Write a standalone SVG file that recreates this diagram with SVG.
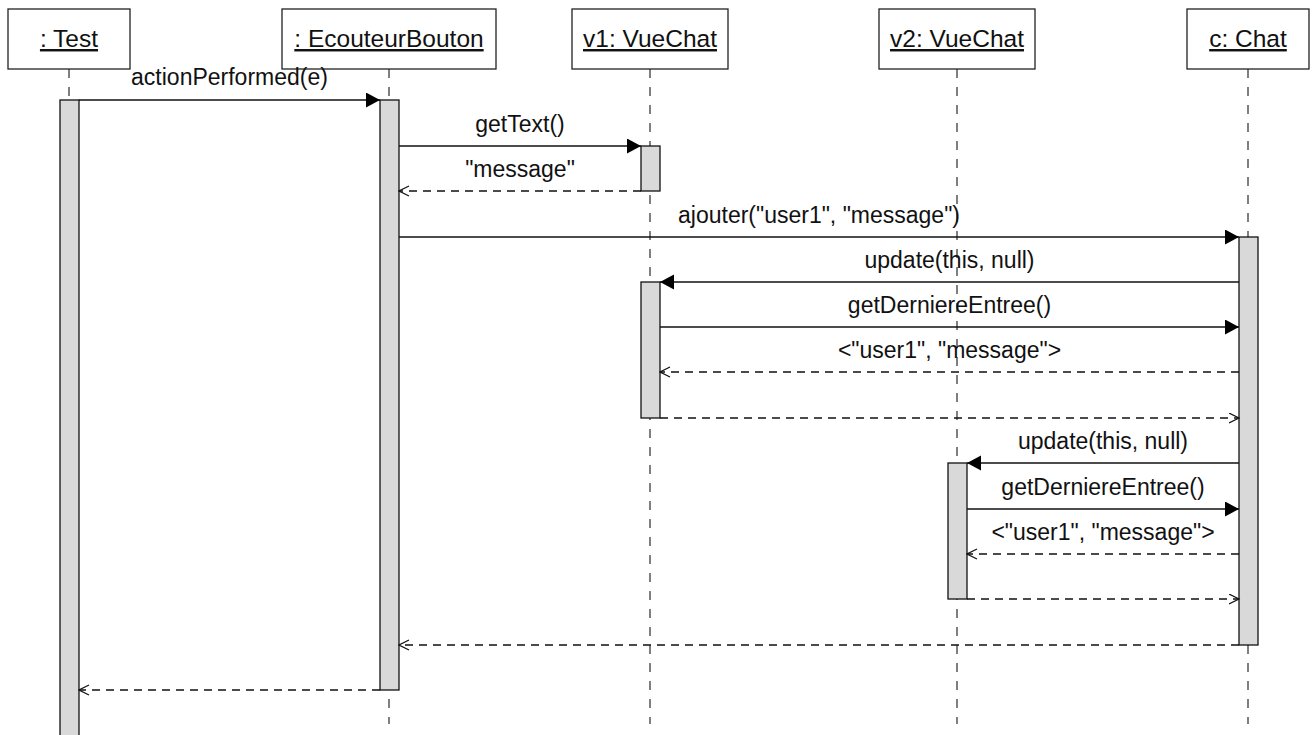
<svg xmlns="http://www.w3.org/2000/svg" width="1314" height="735" viewBox="0 0 1314 735">
<style>
.box{fill:#fff;stroke:#222;stroke-width:1.3}
.hdr{font-family:"Liberation Sans",Arial,sans-serif;font-size:24.5px;text-anchor:middle;text-decoration:underline;fill:#111}
.life{stroke:#555;stroke-width:1.5;stroke-dasharray:9 9;fill:none}
.act{fill:#d9d9d9;stroke:#111;stroke-width:1.3}
.call{stroke:#111;stroke-width:1.3;fill:none;marker-end:url(#fill)}
.ret{stroke:#111;stroke-width:1.3;fill:none;stroke-dasharray:8 6;marker-end:url(#open)}
.lbl{font-family:"Liberation Sans",Arial,sans-serif;font-size:23px;text-anchor:middle;fill:#111}
</style>
<defs>
<marker id="fill" markerUnits="userSpaceOnUse" markerWidth="15" markerHeight="16" refX="14" refY="7.5" orient="auto">
<path d="M0,0 L14,7.5 L0,15 z" fill="#000"/>
</marker>
<marker id="open" markerUnits="userSpaceOnUse" markerWidth="12" markerHeight="12" refX="10.5" refY="5.5" orient="auto">
<path d="M0.5,0.5 L10.5,5.5 L0.5,10.5" fill="none" stroke="#111" stroke-width="1.2"/>
</marker>
</defs>
<rect width="1314" height="735" fill="#fff"/>
<g id="lifelines">
<line class="life" x1="69" y1="69" x2="69" y2="724"/>
<line class="life" x1="389" y1="69" x2="389" y2="724"/>
<line class="life" x1="650" y1="69" x2="650" y2="724"/>
<line class="life" x1="957" y1="69" x2="957" y2="724"/>
<line class="life" x1="1248" y1="69" x2="1248" y2="724"/>
</g>
<g id="test">
<rect class="box" x="8" y="9" width="122" height="60"/>
<text class="hdr" x="69" y="47">: Test</text>
<rect class="act" x="60" y="100" width="19" height="650"/>
</g>
<g id="ecouteur">
<rect class="box" x="282" y="9" width="214" height="60"/>
<text class="hdr" x="389" y="47">: EcouteurBouton</text>
<rect class="act" x="380" y="100" width="19" height="590"/>
</g>
<g id="v1">
<rect class="box" x="572" y="9" width="156" height="60"/>
<text class="hdr" x="650" y="47">v1: VueChat</text>
<rect class="act" x="641" y="146" width="19" height="45"/>
<rect class="act" x="641" y="282" width="19" height="136"/>
</g>
<g id="v2">
<rect class="box" x="879" y="9" width="156" height="60"/>
<text class="hdr" x="957" y="47">v2: VueChat</text>
<rect class="act" x="948" y="463" width="19" height="136"/>
</g>
<g id="chat">
<rect class="box" x="1187" y="9" width="122" height="60"/>
<text class="hdr" x="1248" y="47">c: Chat</text>
<rect class="act" x="1239" y="237" width="19" height="408"/>
</g>
<g id="connectors">
<line class="call" x1="79" y1="100" x2="380" y2="100"/>
<line class="call" x1="399" y1="146" x2="641" y2="146"/>
<line class="ret" x1="641" y1="191" x2="399" y2="191"/>
<line class="call" x1="399" y1="237" x2="1239" y2="237"/>
<line class="call" x1="1239" y1="282" x2="660" y2="282"/>
<line class="call" x1="660" y1="327" x2="1239" y2="327"/>
<line class="ret" x1="1239" y1="372" x2="660" y2="372"/>
<line class="ret" x1="660" y1="418" x2="1239" y2="418"/>
<line class="call" x1="1239" y1="463" x2="967" y2="463"/>
<line class="call" x1="967" y1="509" x2="1239" y2="509"/>
<line class="ret" x1="1239" y1="554" x2="967" y2="554"/>
<line class="ret" x1="967" y1="599" x2="1239" y2="599"/>
<line class="ret" x1="1239" y1="645" x2="399" y2="645"/>
<line class="ret" x1="380" y1="690" x2="79" y2="690"/>
</g>
<g id="labels">
<text class="lbl" x="229.5" y="85">actionPerformed(e)</text>
<text class="lbl" x="520" y="132">getText()</text>
<text class="lbl" x="520" y="177">"message"</text>
<text class="lbl" x="819" y="223">ajouter("user1", "message")</text>
<text class="lbl" x="949.5" y="268">update(this, null)</text>
<text class="lbl" x="949.5" y="313">getDerniereEntree()</text>
<text class="lbl" x="949.5" y="358">&lt;"user1", "message"&gt;</text>
<text class="lbl" x="1103" y="449">update(this, null)</text>
<text class="lbl" x="1103" y="495">getDerniereEntree()</text>
<text class="lbl" x="1103" y="540">&lt;"user1", "message"&gt;</text>
</g>
</svg>
